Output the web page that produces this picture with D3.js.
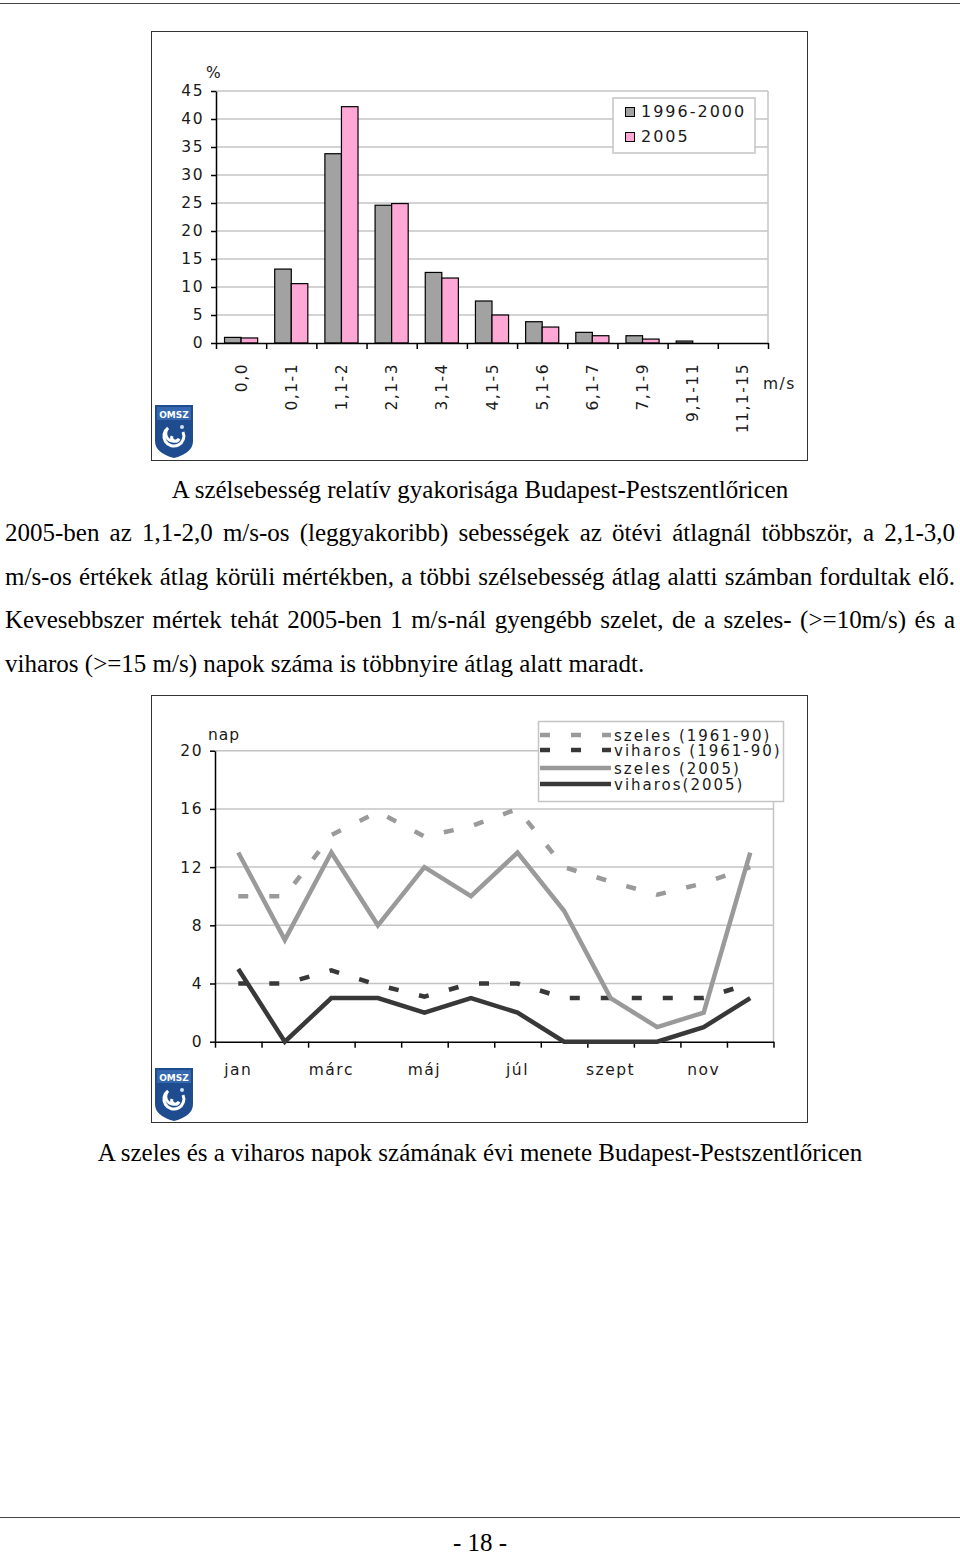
<!doctype html>
<html>
<head>
<meta charset="utf-8">
<title>Szélsebesség - Budapest-Pestszentlőrinc</title>
<script src="https://d3js.org/d3.v7.min.js"></script>
<style>
body { margin:0; background:#fff; }
#page { position:relative; width:960px; height:1557px; overflow:hidden; background:#fff; }
#page svg { position:absolute; left:0; top:0; }
.txt { position:absolute; font-family:"Liberation Serif","Times New Roman",serif; font-size:25px; line-height:25px; color:#000; white-space:nowrap; }
.just { text-align:justify; text-align-last:justify; white-space:normal; }
.chart text { font-family:"DejaVu Sans",Verdana,sans-serif; fill:#1a1a1a; }
</style>
</head>
<body>
<div id="page"></div>
<script>

// --- data: wind speed histogram (top chart)
var speedCats = ["0,0","0,1-1","1,1-2","2,1-3","3,1-4","4,1-5","5,1-6","6,1-7","7,1-9","9,1-11","11,1-15"];
var freq9600 = [1.0, 13.2, 33.8, 24.6, 12.6, 7.5, 3.8, 1.9, 1.3, 0.35, 0];
var freq2005 = [0.9, 10.6, 42.2, 24.9, 11.6, 5.0, 2.85, 1.3, 0.7, 0, 0];
var barSeries = ["1996-2000","2005"];
var pctTicks = [0,5,10,15,20,25,30,35,40,45];

// --- data: windy / stormy days per month (bottom chart)
var months = ["jan","febr","márc","ápr","máj","jún","júl","aug","szept","okt","nov","dec"];
var szeles6190 = [10, 10, 14.2, 15.8, 14.1, 14.8, 16, 12, 11, 10.1, 10.9, 12];
var viharos6190 = [4, 4, 4.9, 3.9, 3.1, 4, 4, 3, 3, 3, 3, 4];
var szeles2005 = [13, 7, 13, 8, 12, 10, 13, 9, 3, 1, 2, 13];
var viharos2005 = [5, 0, 3, 3, 2, 3, 2, 0, 0, 0, 1, 3];
var lineNames = ["szeles (1961-90)","viharos (1961-90)","szeles (2005)","viharos(2005)"];
var dayTicks = [0,4,8,12,16,20];

// --- page text
var caption1 = "A szélsebesség relatív gyakorisága Budapest-Pestszentlőricen";
var paraLines = [
  "2005-ben az 1,1-2,0 m/s-os (leggyakoribb) sebességek az ötévi átlagnál többször, a 2,1-3,0",
  "m/s-os értékek átlag körüli mértékben, a többi szélsebesség átlag alatti számban fordultak elő.",
  "Kevesebbszer mértek tehát 2005-ben 1 m/s-nál gyengébb szelet, de a szeles- (>=10m/s) és a",
  "viharos (>=15 m/s) napok száma is többnyire átlag alatt maradt."
];
var caption2 = "A szeles és a viharos napok számának évi menete Budapest-Pestszentlőricen";
var pageNum = "- 18 -";

var AX_FS = 15.5;   // axis label font size
var page = d3.select("#page");
var svg = page.append("svg").attr("width", 960).attr("height", 1557).attr("class", "chart");

var GRID = "#c4c4c4";

// page rules
svg.append("line").attr("x1", 0).attr("x2", 960).attr("y1", 3.5).attr("y2", 3.5).attr("stroke", "#444");
svg.append("line").attr("x1", 0).attr("x2", 960).attr("y1", 1517.5).attr("y2", 1517.5).attr("stroke", "#444");

// serif text lines
page.append("div").attr("class", "txt").style("left", "0px").style("width", "960px")
  .style("text-align", "center").style("top", "477px").text(caption1);
paraLines.forEach(function(t, i) {
  var d = page.append("div").attr("class", "txt").style("left", "5px").style("width", "950px")
    .style("top", (520 + i * 43.5) + "px").text(t);
  if (i < paraLines.length - 1) d.classed("just", true);
});
page.append("div").attr("class", "txt").style("left", "0px").style("width", "960px")
  .style("text-align", "center").style("top", "1140px").text(caption2);
page.append("div").attr("class", "txt").style("left", "0px").style("width", "960px")
  .style("text-align", "center").style("top", "1530px").text(pageNum);

// OMSZ logo
function drawLogo(x, y) {
  var g = svg.append("g").attr("transform", "translate(" + x + "," + y + ")");
  g.append("path").attr("d", "M0,0H38V36Q38,48 19,53Q0,48 0,36Z").attr("fill", "#1f4c8f");
  g.append("rect").attr("x", 2).attr("y", 2).attr("width", 34).attr("height", 13).attr("fill", "#3467ad");
  g.append("text").attr("x", 19).attr("y", 12.5).attr("text-anchor", "middle")
    .attr("font-size", 9).attr("font-weight", "bold").style("fill", "#fff").text("OMSZ");
  g.append("path").attr("d", "M28,27 A10,10 0 1 1 13,23 A6.5,6.5 0 1 0 24,34 A3.5,3.5 0 1 1 17,31")
    .attr("fill", "none").attr("stroke", "#fff").attr("stroke-width", 3);
  g.append("circle").attr("cx", 27).attr("cy", 22).attr("r", 2).attr("fill", "#cfe0f5");
}

// ================= TOP CHART =================
svg.append("rect").attr("x", 151.5).attr("y", 31.5).attr("width", 656).attr("height", 429)
  .attr("fill", "#fff").attr("stroke", "#333");

var bx0 = 216, bx1 = 768;
var yBar = d3.scaleLinear().domain([0, 45]).range([343, 91]);
var xBand = d3.scaleBand().domain(speedCats).range([bx0, bx1]).paddingInner(0.34).paddingOuter(0.17);
var xSub = d3.scaleBand().domain(barSeries).range([0, xBand.bandwidth()]);
var xEdge = d3.scaleLinear().domain([0, speedCats.length]).range([bx0, bx1]);
var barColor = d3.scaleOrdinal().domain(barSeries).range(["#a2a2a2", "#ffa8d6"]);

var gTop = svg.append("g");

// grid + plot border
gTop.selectAll("line.grid").data(pctTicks.slice(1)).join("line").attr("class", "grid")
  .attr("x1", bx0).attr("x2", bx1).attr("y1", function(d) { return yBar(d); }).attr("y2", function(d) { return yBar(d); })
  .attr("stroke", GRID).attr("stroke-width", 1.5);
gTop.append("line").attr("x1", bx1).attr("x2", bx1).attr("y1", yBar(45)).attr("y2", yBar(0))
  .attr("stroke", GRID).attr("stroke-width", 1.5);

// legend
var leg1 = gTop.append("g");
leg1.append("rect").attr("x", 613).attr("y", 98).attr("width", 142).attr("height", 55)
  .attr("fill", "#fff").attr("stroke", GRID).attr("stroke-width", 1.5);
barSeries.forEach(function(s, i) {
  leg1.append("rect").attr("x", 625.5).attr("y", 107.5 + i * 25).attr("width", 9).attr("height", 9)
    .attr("fill", barColor(s)).attr("stroke", "#000");
  leg1.append("text").attr("x", 641).attr("y", 117 + i * 25).attr("font-size", 16)
    .attr("letter-spacing", "2px").text(s);
});

// bars
var barData = [];
speedCats.forEach(function(c, i) {
  barData.push({cat: c, s: barSeries[0], v: freq9600[i]});
  barData.push({cat: c, s: barSeries[1], v: freq2005[i]});
});
gTop.selectAll("rect.bar").data(barData.filter(function(d) { return d.v > 0; })).join("rect").attr("class", "bar")
  .attr("x", function(d) { return xBand(d.cat) + xSub(d.s); })
  .attr("y", function(d) { return yBar(d.v); })
  .attr("width", xSub.bandwidth())
  .attr("height", function(d) { return yBar(0) - yBar(d.v); })
  .attr("fill", function(d) { return barColor(d.s); })
  .attr("stroke", "#000").attr("stroke-width", 1.2);

// axes
var gY1 = gTop.append("g").attr("transform", "translate(" + bx0 + ",0)")
  .call(d3.axisLeft(yBar).tickValues(pctTicks).tickSize(5).tickSizeOuter(0).tickPadding(7));
var gX1 = gTop.append("g").attr("transform", "translate(0," + yBar(0) + ")")
  .call(d3.axisBottom(xEdge).tickValues(d3.range(speedCats.length + 1)).tickSize(6).tickSizeOuter(0).tickFormat(""));
[gY1, gX1].forEach(function(g) {
  g.attr("font-family", null).attr("font-size", null);
  g.selectAll("path, line").attr("stroke", "#000").attr("stroke-width", 1.5);
});
gY1.selectAll("text").attr("font-size", AX_FS).attr("letter-spacing", "1.5px");

gTop.selectAll("text.xl").data(speedCats).join("text").attr("class", "xl")
  .attr("transform", function(d) { return "translate(" + (xBand(d) + xBand.bandwidth() / 2 + 5.5) + ",363) rotate(-90)"; })
  .attr("text-anchor", "end").attr("font-size", AX_FS).attr("letter-spacing", "1.5px").text(function(d) { return d; });

gTop.append("text").attr("x", 206).attr("y", 78).attr("font-size", AX_FS).text("%");
gTop.append("text").attr("x", 763).attr("y", 389).attr("font-size", AX_FS).attr("letter-spacing", "1.5px").text("m/s");

drawLogo(155, 405);

// ================= BOTTOM CHART =================
svg.append("rect").attr("x", 151.5).attr("y", 695.5).attr("width", 656).attr("height", 427)
  .attr("fill", "#fff").attr("stroke", "#333");

var lx0 = 215, lx1 = 773.5;
var yDay = d3.scaleLinear().domain([0, 20]).range([1041.7, 750.7]);
var xMon = d3.scalePoint().domain(months).range([lx0, lx1]).padding(0.5);
var xMonEdge = d3.scaleLinear().domain([0, months.length]).range([lx0, lx1]);

var gBot = svg.append("g");
gBot.selectAll("line.grid").data(dayTicks.slice(1)).join("line").attr("class", "grid")
  .attr("x1", lx0).attr("x2", lx1).attr("y1", function(d) { return yDay(d); }).attr("y2", function(d) { return yDay(d); })
  .attr("stroke", GRID).attr("stroke-width", 1.5);
gBot.append("line").attr("x1", lx1).attr("x2", lx1).attr("y1", yDay(20)).attr("y2", yDay(0))
  .attr("stroke", GRID).attr("stroke-width", 1.5);

var gY2 = gBot.append("g").attr("transform", "translate(" + lx0 + ",0)")
  .call(d3.axisLeft(yDay).tickValues(dayTicks).tickSize(5).tickSizeOuter(0).tickPadding(7));
var gX2 = gBot.append("g").attr("transform", "translate(0," + yDay(0) + ")")
  .call(d3.axisBottom(xMonEdge).tickValues(d3.range(months.length + 1)).tickSize(6).tickSizeOuter(0).tickFormat(""));
[gY2, gX2].forEach(function(g) {
  g.attr("font-family", null).attr("font-size", null);
  g.selectAll("path, line").attr("stroke", "#000").attr("stroke-width", 1.5);
});
gY2.selectAll("text").attr("font-size", AX_FS).attr("letter-spacing", "1.5px");

gBot.selectAll("text.xl").data(months.filter(function(d, i) { return i % 2 === 0; })).join("text").attr("class", "xl")
  .attr("x", function(d) { return xMon(d); }).attr("y", 1075)
  .attr("text-anchor", "middle").attr("font-size", AX_FS).attr("letter-spacing", "1.5px").text(function(d) { return d; });
gBot.append("text").attr("x", 208).attr("y", 740).attr("font-size", AX_FS).attr("letter-spacing", "1px").text("nap");

var lineDefs = [
  {name: lineNames[0], vals: szeles6190, color: "#9a9a9a", dash: "10,21"},
  {name: lineNames[1], vals: viharos6190, color: "#383838", dash: "10,21"},
  {name: lineNames[2], vals: szeles2005, color: "#9a9a9a", dash: null},
  {name: lineNames[3], vals: viharos2005, color: "#383838", dash: null}
];
var lineGen = d3.line().x(function(d, i) { return xMon(months[i]); }).y(function(d) { return yDay(d); });
gBot.selectAll("path.series").data(lineDefs).join("path").attr("class", "series")
  .attr("d", function(d) { return lineGen(d.vals); })
  .attr("fill", "none").attr("stroke", function(d) { return d.color; })
  .attr("stroke-width", 4.5).attr("stroke-dasharray", function(d) { return d.dash; });

// legend
var leg2 = gBot.append("g");
leg2.append("rect").attr("x", 538.5).attr("y", 721.5).attr("width", 245).attr("height", 80)
  .attr("fill", "#fff").attr("stroke", GRID).attr("stroke-width", 1.5);
var legRowY = [735, 750, 768, 784];
lineDefs.forEach(function(d, i) {
  leg2.append("line").attr("x1", 540).attr("x2", 611).attr("y1", legRowY[i]).attr("y2", legRowY[i])
    .attr("stroke", d.color).attr("stroke-width", 4.5).attr("stroke-dasharray", d.dash);
  leg2.append("text").attr("x", 614).attr("y", legRowY[i] + 6).attr("font-size", 15)
    .attr("letter-spacing", "2px").text(d.name);
});

drawLogo(155, 1068);
</script>
</body>
</html>
